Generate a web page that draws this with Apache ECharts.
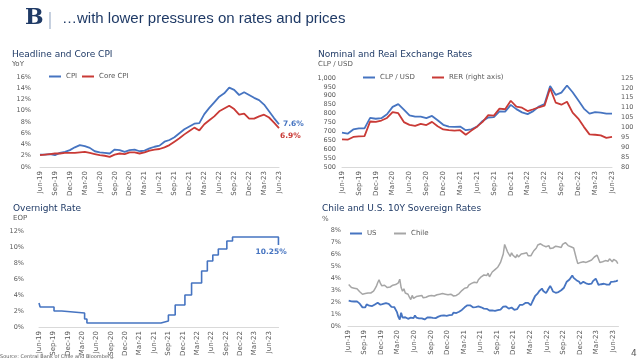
<!DOCTYPE html>
<html><head><meta charset="utf-8">
<script src="https://cdn.jsdelivr.net/npm/echarts/dist/echarts.min.js"></script>
<style>html,body{margin:0;padding:0;background:#fff}#c{width:640px;height:362px}</style>
</head><body><div id="c"></div><script>
// ---------- DATA ----------
const months = ['Jun-19','Jul-19','Aug-19','Sep-19','Oct-19','Nov-19','Dec-19',
 'Jan-20','Feb-20','Mar-20','Apr-20','May-20','Jun-20','Jul-20','Aug-20','Sep-20','Oct-20','Nov-20','Dec-20',
 'Jan-21','Feb-21','Mar-21','Apr-21','May-21','Jun-21','Jul-21','Aug-21','Sep-21','Oct-21','Nov-21','Dec-21',
 'Jan-22','Feb-22','Mar-22','Apr-22','May-22','Jun-22','Jul-22','Aug-22','Sep-22','Oct-22','Nov-22','Dec-22',
 'Jan-23','Feb-23','Mar-23','Apr-23','May-23','Jun-23'];
const quarterLabels = ['Jun-19','Sep-19','Dec-19','Mar-20','Jun-20','Sep-20','Dec-20','Mar-21','Jun-21','Sep-21','Dec-21','Mar-22','Jun-22','Sep-22','Dec-22','Mar-23','Jun-23'];

const cpi = [2.2,2.2,2.3,2.1,2.5,2.7,3.0,
 3.5,3.9,3.7,3.4,2.8,2.6,2.5,2.4,3.1,3.0,2.7,3.0,
 3.1,2.8,2.9,3.3,3.6,3.8,4.5,4.8,5.3,6.0,6.7,7.2,
 7.7,7.8,9.4,10.5,11.5,12.5,13.1,14.1,13.7,12.8,13.3,12.8,
 12.3,11.9,11.1,9.9,8.7,7.6];
const coreCpi = [2.1,2.2,2.3,2.4,2.4,2.5,2.5,
 2.5,2.6,2.7,2.5,2.3,2.1,2.0,1.8,2.2,2.4,2.3,2.6,
 2.6,2.4,2.6,2.9,3.1,3.2,3.5,3.9,4.5,5.1,5.8,6.4,
 7.0,6.5,7.6,8.3,9.0,9.9,10.4,10.9,10.3,9.3,9.5,8.6,
 8.6,9.0,9.3,8.8,7.9,6.9];

const clpUsd = [693,687,711,717,717,776,771,
 774,796,838,853,822,790,783,783,775,787,763,737,
 727,725,727,707,712,727,759,778,780,813,811,849,
 825,807,797,814,840,854,955,905,918,958,920,875,
 828,800,808,805,800,800];
const rer = [94.0,93.8,95.2,95.5,95.6,103.0,102.8,
 103.5,104.8,107.8,107.2,102.7,101.3,100.8,101.8,101.2,102.8,100.6,99.0,
 98.6,98.4,98.6,96.3,98.4,100.4,102.8,106.2,106.0,109.5,109.2,113.5,
 110.5,110.0,108.3,109.2,110.2,111.0,119.8,112.5,111.5,113.0,107.5,104.5,
 100.3,96.5,96.3,96.0,94.7,95.2];

const rateDates = ['2019-06-01','2019-06-08','2019-09-05','2019-10-24','2020-03-17','2020-04-01',
 '2021-07-15','2021-09-01','2021-10-14','2021-12-15','2022-01-27','2022-03-30','2022-05-05',
 '2022-06-09','2022-07-14','2022-09-07','2022-10-13','2023-07-31'];
const rateValues = [3.0,2.5,2.0,1.75,1.0,0.5,0.75,1.5,2.75,4.0,5.5,7.0,8.25,9.0,9.75,10.75,11.25,10.25];

// 10Y yields: roughly weekly readings, grouped by month (Jun-19 .. Jun-23)
const us10y = [
 [2.12,2.09,2.06,2.01],[2.04,2.06,2.05,2.05],[1.86,1.73,1.55,1.50],[1.56,1.80,1.72,1.69],[1.53,1.66,1.75,1.80],[1.73,1.94,1.83,1.77],[1.82,1.84,1.92,1.90],
 [1.80,1.85,1.78,1.60],[1.59,1.58,1.47,1.15],[0.76,0.54,1.10,0.70],[0.60,0.73,0.64,0.60],[0.68,0.70,0.66,0.65],[0.88,0.70,0.70,0.64],[0.68,0.64,0.60,0.55],[0.56,0.71,0.64,0.72],[0.72,0.67,0.69,0.66],[0.70,0.78,0.74,0.86],[0.82,0.89,0.83,0.84],[0.97,0.90,0.95,0.93],
 [1.12,1.11,1.08,1.07],[1.19,1.21,1.34,1.44],[1.56,1.62,1.72,1.67],[1.72,1.66,1.56,1.60],[1.58,1.63,1.63,1.60],[1.56,1.45,1.45,1.52],[1.43,1.36,1.29,1.24],[1.30,1.28,1.26,1.31],[1.32,1.34,1.36,1.46],[1.61,1.58,1.63,1.56],[1.45,1.56,1.54,1.48],[1.35,1.48,1.40,1.48],
 [1.76,1.78,1.76,1.78],[1.92,1.92,1.93,1.97],[1.73,2.00,2.15,2.48],[2.38,2.72,2.90,2.89],[3.12,2.92,2.78,2.74],[2.94,3.15,3.34,3.13],[2.88,2.92,2.77,2.65],[2.83,2.85,2.98,3.04],[3.19,3.45,3.69,3.83],[3.88,4.02,4.21,4.01],[4.16,3.82,3.82,3.68],[3.51,3.57,3.68,3.83],
 [3.56,3.51,3.48,3.52],[3.53,3.74,3.82,3.95],[3.70,3.43,3.39,3.48],[3.39,3.52,3.57,3.44],[3.44,3.46,3.68,3.80],[3.69,3.76,3.74,3.81]];
const chile10y = [
 [3.45,3.30,3.20,3.25],[3.15,3.20,3.10,3.05],[2.85,2.70,2.65,2.75],[2.70,2.80,2.75,2.70],[2.75,2.85,2.90,3.10],[3.30,3.60,3.85,3.55],[3.35,3.20,3.40,3.25],
 [3.20,3.30,3.25,3.35],[3.40,3.30,3.45,3.35],[3.60,3.90,3.20,2.90],[3.10,2.75,2.60,2.65],[2.40,2.20,2.55,2.30],[2.15,2.45,2.30,2.50],[2.40,2.55,2.35,2.45],[2.40,2.55,2.50,2.60],[2.55,2.60,2.50,2.65],[2.60,2.55,2.65,2.60],[2.70,2.85,2.65,2.70],[2.60,2.55,2.65,2.55],
 [2.50,2.65,2.55,2.60],[2.70,2.80,2.95,3.05],[3.15,3.30,3.20,3.40],[3.35,3.55,3.50,3.65],[3.70,3.60,3.85,3.95],[4.10,4.00,4.25,4.35],[4.20,4.40,4.10,4.25],[4.50,4.40,4.70,4.80],[4.90,5.10,5.30,5.40],[6.00,6.80,6.50,6.20],[6.00,5.80,6.10,5.90],[5.80,5.70,5.95,5.75],
 [5.80,6.00,5.85,6.05],[5.90,6.10,5.85,6.00],[5.85,6.05,6.25,6.40],[6.50,6.75,6.65,6.85],[6.90,6.70,6.80,6.60],[6.55,6.70,6.45,6.60],[6.50,6.40,6.65,6.50],[6.60,6.75,6.55,6.80],[6.70,6.95,6.85,6.70],[6.80,6.60,6.70,6.50],[6.40,5.60,5.20,5.35],[5.30,5.20,5.35,5.25],
 [5.30,5.20,5.40,5.35],[5.50,5.60,5.75,5.70],[5.90,5.60,5.30,5.20],[5.35,5.25,5.45,5.30],[5.40,5.60,5.50,5.35],[5.55,5.60,5.40,5.20]];

// ---------- HELPERS ----------
function monthsSince(d){ // months since 1 Jun 2019
  const [y,m,dd] = d.split('-').map(Number);
  const dim = new Date(y, m, 0).getDate();
  return (y-2019)*12 + (m-6) + (dd-1)/dim;
}
function fromMonthly(arr){
  const out=[]; arr.forEach((vals,m)=>vals.forEach((v,k)=>out.push([m+(k+0.5)/vals.length, v]))); return out;
}
const qLabel = v => (v%3===0 && v/3 < quarterLabels.length) ? quarterLabels[v/3] : '';

const BLUE='#4674c1', RED='#c93a36', GRAY='#a6a6a6', TXT='#595959', AX='#d9d9d9', NAVY='#1f3a66';
const FONT='DejaVu Sans';
const lab = {color:TXT, fontSize:6.5, fontFamily:FONT};
const xlab = {color:TXT, fontSize:7, fontFamily:FONT};

function catX(grid){ return {type:'category', gridIndex:grid, data:months, boundaryGap:false,
  axisLine:{lineStyle:{color:AX}}, axisTick:{show:false},
  axisLabel:Object.assign({rotate:90, interval:2, margin:4}, xlab), splitLine:{show:false}}; }
function valX(grid,max){ return {type:'value', gridIndex:grid, min:0, max:max, interval:3,
  axisLine:{lineStyle:{color:AX}}, axisTick:{show:false},
  axisLabel:Object.assign({rotate:90, margin:4, formatter:qLabel, showMaxLabel:true}, xlab), splitLine:{show:false}}; }
function valY(grid,min,max,iv,fmt,margin,pos){ return {type:'value', gridIndex:grid, min:min, max:max, interval:iv, position:pos||'left',
  axisLine:{show:false}, axisTick:{show:false}, splitLine:{show:false},
  axisLabel:Object.assign({formatter:fmt, margin:margin}, lab)}; }

function leg(name, left, top){ return {data:[name], left:left, top:top, padding:0, icon:'rect', itemWidth:12, itemHeight:2, itemGap:5,
  textStyle:{color:TXT, fontSize:7, fontFamily:FONT}}; }

function txt(x,y,s,size,color,weight,family){ return {type:'text', left:x, top:y, style:{text:s, fontSize:size, fill:color,
  fontWeight:weight||'normal', fontFamily:family||FONT}}; }

const chart = echarts.init(document.getElementById('c'));
chart.setOption({
  animation:false,
  textStyle:{fontFamily:FONT},
  grid:[
    {left:40, top:77, width:239, height:90},
    {left:342, top:78, width:270, height:89},
    {left:39, top:231, width:239.6, height:96},
    {left:348, top:230, width:270.5, height:96}
  ],
  xAxis:[catX(0), catX(1), valX(2,50), valX(3,49)],
  yAxis:[
    valY(0,0,16,2,'{value}%',9),
    valY(1,500,1000,50,v=>v.toLocaleString('en-US'),6),
    valY(1,80,125,5,'{value}',9,'right'),
    valY(2,0,12,2,'{value}%',15),
    valY(3,0,8,1,'{value}%',7)
  ],
  legend:[leg('CPI',49,73), leg('Core CPI',82,73), leg('CLP / USD',363,74), leg('RER (right axis)',432,74),
          leg('US',350,230), leg('Chile',394,230)],
  series:[
    {name:'CPI', type:'line', xAxisIndex:0, yAxisIndex:0, data:cpi, showSymbol:false, color:BLUE, lineStyle:{width:1.8},
      endLabel:{show:true, formatter:p=>p.value.toFixed(1)+'%', color:BLUE, fontWeight:'bold', fontSize:7.5, distance:4, fontFamily:FONT}},
    {name:'Core CPI', type:'line', xAxisIndex:0, yAxisIndex:0, data:coreCpi, showSymbol:false, color:RED, lineStyle:{width:1.8},
      endLabel:{show:true, formatter:p=>p.value.toFixed(1)+'%', color:RED, fontWeight:'bold', fontSize:7.5, distance:1, offset:[0,8], fontFamily:FONT}},
    {name:'CLP / USD', type:'line', xAxisIndex:1, yAxisIndex:1, data:clpUsd, showSymbol:false, color:BLUE, lineStyle:{width:1.8}},
    {name:'RER (right axis)', type:'line', xAxisIndex:1, yAxisIndex:2, data:rer, showSymbol:false, color:RED, lineStyle:{width:1.8}},
    {name:'Overnight', type:'line', xAxisIndex:2, yAxisIndex:3, step:'end', showSymbol:false, color:BLUE, lineStyle:{width:1.6},
      data:rateDates.map((d,i)=>[monthsSince(d), rateValues[i]]),
      endLabel:{show:true, formatter:p=>p.value[1].toFixed(2)+'%', color:BLUE, fontWeight:'bold', fontSize:7.5, distance:0, offset:[-23,7], fontFamily:FONT}},
    {name:'Chile', type:'line', xAxisIndex:3, yAxisIndex:4, data:fromMonthly(chile10y), showSymbol:false, color:GRAY, lineStyle:{width:1.5}},
    {name:'US', type:'line', xAxisIndex:3, yAxisIndex:4, data:fromMonthly(us10y), showSymbol:false, color:BLUE, lineStyle:{width:1.8}}
  ],
  graphic:[
    {type:'text', left:25, top:7, style:{text:'B', fontSize:22, fontWeight:'bold', fill:NAVY, fontFamily:'DejaVu Serif'}},
    {type:'rect', left:49.5, top:12, shape:{width:1, height:17}, style:{fill:'#8ea2c0'}},
    txt(62,11,'\u2026with lower pressures on rates and prices',15,NAVY,'normal','Liberation Sans'),
    txt(12,50,'Headline and Core CPI',9,NAVY),
    txt(12,61,'YoY',7,TXT),
    txt(318,50,'Nominal and Real Exchange Rates',9,NAVY),
    txt(318,61,'CLP / USD',7,TXT),
    txt(13,204,'Overnight Rate',9,NAVY),
    txt(13,215,'EOP',7,TXT),
    txt(322,204,'Chile and U.S. 10Y Sovereign Rates',9,NAVY),
    txt(322,216,'%',7,TXT),
    txt(0,354,'Source: Central Bank of Chile and Bloomberg.',5,TXT),
    txt(631,349,'4',9,TXT)
  ]
});
</script></body></html>
